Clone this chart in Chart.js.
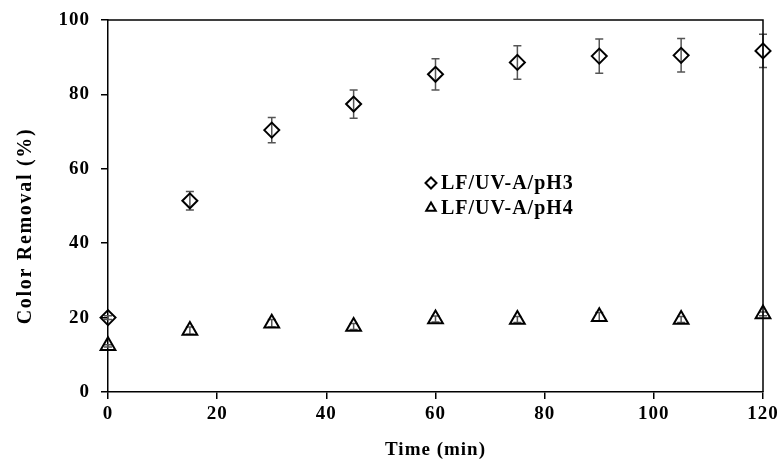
<!DOCTYPE html>
<html>
<head>
<meta charset="utf-8">
<script src="https://cdn.jsdelivr.net/npm/chart.js@4.4.1/dist/chart.umd.min.js"></script>
<style>
html,body{margin:0;padding:0;background:#fff;}
#wrap{width:780px;height:461px;position:relative;}
</style>
</head>
<body>
<div id="wrap"><canvas id="c" width="780" height="461"></canvas></div>
<script>
const timeMin = [0, 15, 30, 45, 60, 75, 90, 105, 120];
const removalPH3 = [20.0, 51.4, 70.4, 77.4, 85.4, 88.6, 90.3, 90.5, 91.7];
const errorPH3 = [0.5, 2.5, 3.4, 3.8, 4.2, 4.5, 4.6, 4.5, 4.5];
const removalPH4 = [12.4, 16.5, 18.5, 17.6, 19.6, 19.5, 20.2, 19.5, 21.0];
const errorPH4 = [0.3, 1.0, 1.0, 0.8, 0.8, 0.8, 1.2, 0.8, 0.5];
const seriesLabels = ['LF/UV-A/pH3', 'LF/UV-A/pH4'];
const xTicks = [0, 20, 40, 60, 80, 100, 120];
const yTicks = [0, 20, 40, 60, 80, 100];

const FONT = "'Liberation Serif', 'Times New Roman', serif";
const SPACING = '1px';

function toPoints(xs, ys) { return xs.map((x, i) => ({ x: x, y: ys[i] })); }

const spacingPlugin = {
  id: 'spacing',
  beforeLayout(chart) { chart.ctx.letterSpacing = SPACING; },
  beforeDraw(chart) { chart.ctx.letterSpacing = SPACING; }
};

const boxPlugin = {
  id: 'box',
  afterDraw(chart) {
    const a = chart.chartArea, ctx = chart.ctx;
    ctx.save();
    ctx.strokeStyle = '#000';
    ctx.lineWidth = 1.5;
    ctx.beginPath();
    ctx.moveTo(a.left, a.top); ctx.lineTo(a.right, a.top); ctx.lineTo(a.right, a.bottom);
    ctx.stroke();
    ctx.restore();
  }
};

const errorBarPlugin = {
  id: 'errorBars',
  beforeDatasetsDraw(chart) {
    const ctx = chart.ctx, xs = chart.scales.x, ys = chart.scales.y;
    ctx.save();
    ctx.strokeStyle = '#555';
    ctx.lineWidth = 1.5;
    chart.data.datasets.forEach(ds => {
      const errs = ds.errors;
      ds.data.forEach((p, i) => {
        const e = errs[i];
        if (!e) return;
        const x = xs.getPixelForValue(p.x);
        const y1 = ys.getPixelForValue(p.y + e);
        const y2 = ys.getPixelForValue(p.y - e);
        ctx.beginPath();
        ctx.moveTo(x, y1); ctx.lineTo(x, y2);
        ctx.moveTo(x - 4, y1); ctx.lineTo(x + 4, y1);
        ctx.moveTo(x - 4, y2); ctx.lineTo(x + 4, y2);
        ctx.stroke();
      });
    });
    ctx.restore();
  }
};

const legendPlugin = {
  id: 'innerLegend',
  afterDraw(chart, args, opts) {
    const ctx = chart.ctx;
    ctx.save();
    ctx.letterSpacing = SPACING;
    ctx.font = "bold 20px " + FONT;
    ctx.textBaseline = 'middle';
    ctx.textAlign = 'left';
    chart.data.datasets.forEach((ds, i) => {
      const y = opts.y + i * opts.rowGap;
      ctx.strokeStyle = '#000';
      ctx.fillStyle = 'rgba(0,0,0,0)';
      Chart.helpers.drawPoint(ctx, { pointStyle: ds.pointStyle, radius: opts.markerRadius, borderWidth: 1.6, rotation: 0 }, opts.markerX, y);
      ctx.fillStyle = '#000';
      ctx.fillText(ds.label, opts.textX, y + 1);
    });
    ctx.restore();
  }
};

new Chart(document.getElementById('c'), {
  type: 'scatter',
  data: {
    datasets: [
      {
        label: seriesLabels[0],
        data: toPoints(timeMin, removalPH3),
        errors: errorPH3,
        pointStyle: 'rectRot',
        pointRadius: 7.5,
        pointHoverRadius: 7.5,
        pointBorderWidth: 2,
        borderColor: '#000',
        backgroundColor: 'rgba(0,0,0,0)',
        clip: false
      },
      {
        label: seriesLabels[1],
        data: toPoints(timeMin, removalPH4),
        errors: errorPH4,
        pointStyle: 'triangle',
        pointRadius: 8.5,
        pointHoverRadius: 8.5,
        pointBorderWidth: 2,
        borderColor: '#000',
        backgroundColor: 'rgba(0,0,0,0)',
        clip: false
      }
    ]
  },
  options: {
    responsive: false,
    animation: false,
    events: [],
    layout: { padding: { left: 0, right: 17, top: 20, bottom: 0 } },
    plugins: {
      legend: { display: false },
      tooltip: { enabled: false },
      innerLegend: { markerX: 431, textX: 441, y: 183, rowGap: 25, markerRadius: 5.5 }
    },
    scales: {
      x: {
        type: 'linear',
        min: 0, max: 120,
        afterBuildTicks(scale) { scale.ticks = xTicks.map(v => ({ value: v })); },
        afterFit(scale) { scale.height = 69; scale.paddingLeft = 0; scale.paddingRight = 0; },
        border: { display: true, color: '#000', width: 1.5 },
        grid: { display: true, drawOnChartArea: false, drawTicks: true, tickLength: 7, color: '#000', lineWidth: 1.5 },
        ticks: { color: '#000', font: { family: FONT, size: 19, weight: 'bold' }, padding: 4, maxRotation: 0 },
        title: { display: true, text: 'Time (min)', color: '#000', font: { family: FONT, size: 19, weight: 'bold' }, padding: { top: 0, bottom: 0 } }
      },
      y: {
        type: 'linear',
        min: 0, max: 100,
        afterBuildTicks(scale) { scale.ticks = yTicks.map(v => ({ value: v })); },
        afterFit(scale) { scale.width = 108; scale.paddingTop = 0; scale.paddingBottom = 0; },
        border: { display: true, color: '#000', width: 1.5 },
        grid: { display: true, drawOnChartArea: false, drawTicks: true, tickLength: 7, color: '#000', lineWidth: 1.5 },
        ticks: { color: '#000', font: { family: FONT, size: 19, weight: 'bold' }, padding: 11 },
        title: { display: false }
      }
    }
  },
  plugins: [spacingPlugin, errorBarPlugin, boxPlugin, legendPlugin, {
    id: 'yTitle',
    afterDraw(chart) {
      const ctx = chart.ctx;
      ctx.save();
      ctx.letterSpacing = '1.7px';
      ctx.translate(26, 226);
      ctx.rotate(-Math.PI / 2);
      ctx.font = "bold 20px " + FONT;
      ctx.fillStyle = '#000';
      ctx.textAlign = 'center';
      ctx.textBaseline = 'middle';
      ctx.fillText('Color Removal (%)', 0, 0);
      ctx.restore();
    }
  }]
});
</script>
</body>
</html>
